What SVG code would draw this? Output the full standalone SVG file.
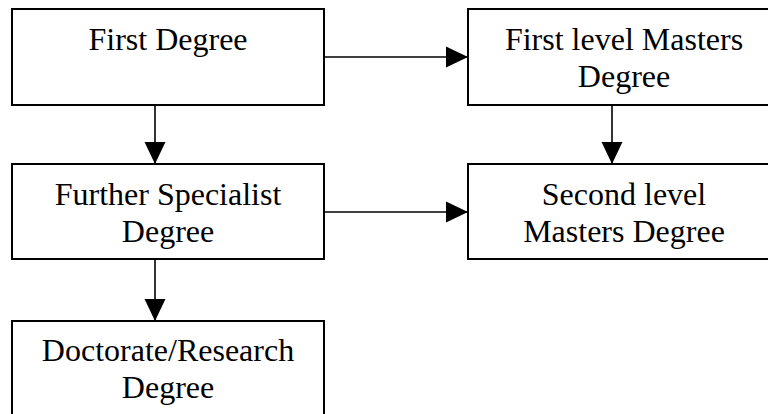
<svg xmlns="http://www.w3.org/2000/svg" width="768" height="414" viewBox="0 0 768 414">
<defs>
<style>
.box{fill:#fff;stroke:#000;stroke-width:2}
.lbl{font-family:"Liberation Serif","Times New Roman",serif;font-size:32px;fill:#000;text-anchor:middle}
.con{stroke:#000;stroke-width:1.6;fill:none}
</style>
<marker id="ah" markerUnits="userSpaceOnUse" markerWidth="22" markerHeight="22" viewBox="0 0 21 20" refX="21" refY="10" orient="auto">
<path d="M0,0 L21,10 L0,20 Z" fill="#000"/>
</marker>
</defs>
<rect width="768" height="414" fill="#fff"/>
<g id="connectors">
<line class="con" x1="324" y1="57" x2="468" y2="57" marker-end="url(#ah)"/>
<line class="con" x1="324" y1="212" x2="468" y2="212" marker-end="url(#ah)"/>
<line class="con" x1="155" y1="105" x2="155" y2="164" marker-end="url(#ah)"/>
<line class="con" x1="612" y1="105" x2="612" y2="164" marker-end="url(#ah)"/>
<line class="con" x1="155" y1="259" x2="155" y2="321" marker-end="url(#ah)"/>
</g>
<g id="n1">
<rect class="box" x="12" y="9" width="312" height="96"/>
<text class="lbl" x="168" y="50">First Degree</text>
</g>
<g id="n2">
<rect class="box" x="468" y="9" width="312" height="96"/>
<text class="lbl" x="624" y="50">First level Masters</text>
<text class="lbl" x="624" y="87">Degree</text>
</g>
<g id="n3">
<rect class="box" x="12" y="164" width="312" height="95"/>
<text class="lbl" x="168" y="205">Further Specialist</text>
<text class="lbl" x="168" y="242">Degree</text>
</g>
<g id="n4">
<rect class="box" x="468" y="164" width="312" height="95"/>
<text class="lbl" x="624" y="205">Second level</text>
<text class="lbl" x="624" y="242">Masters Degree</text>
</g>
<g id="n5">
<rect class="box" x="12" y="321" width="312" height="110"/>
<text class="lbl" x="168" y="361">Doctorate/Research</text>
<text class="lbl" x="168" y="398">Degree</text>
</g>
</svg>
